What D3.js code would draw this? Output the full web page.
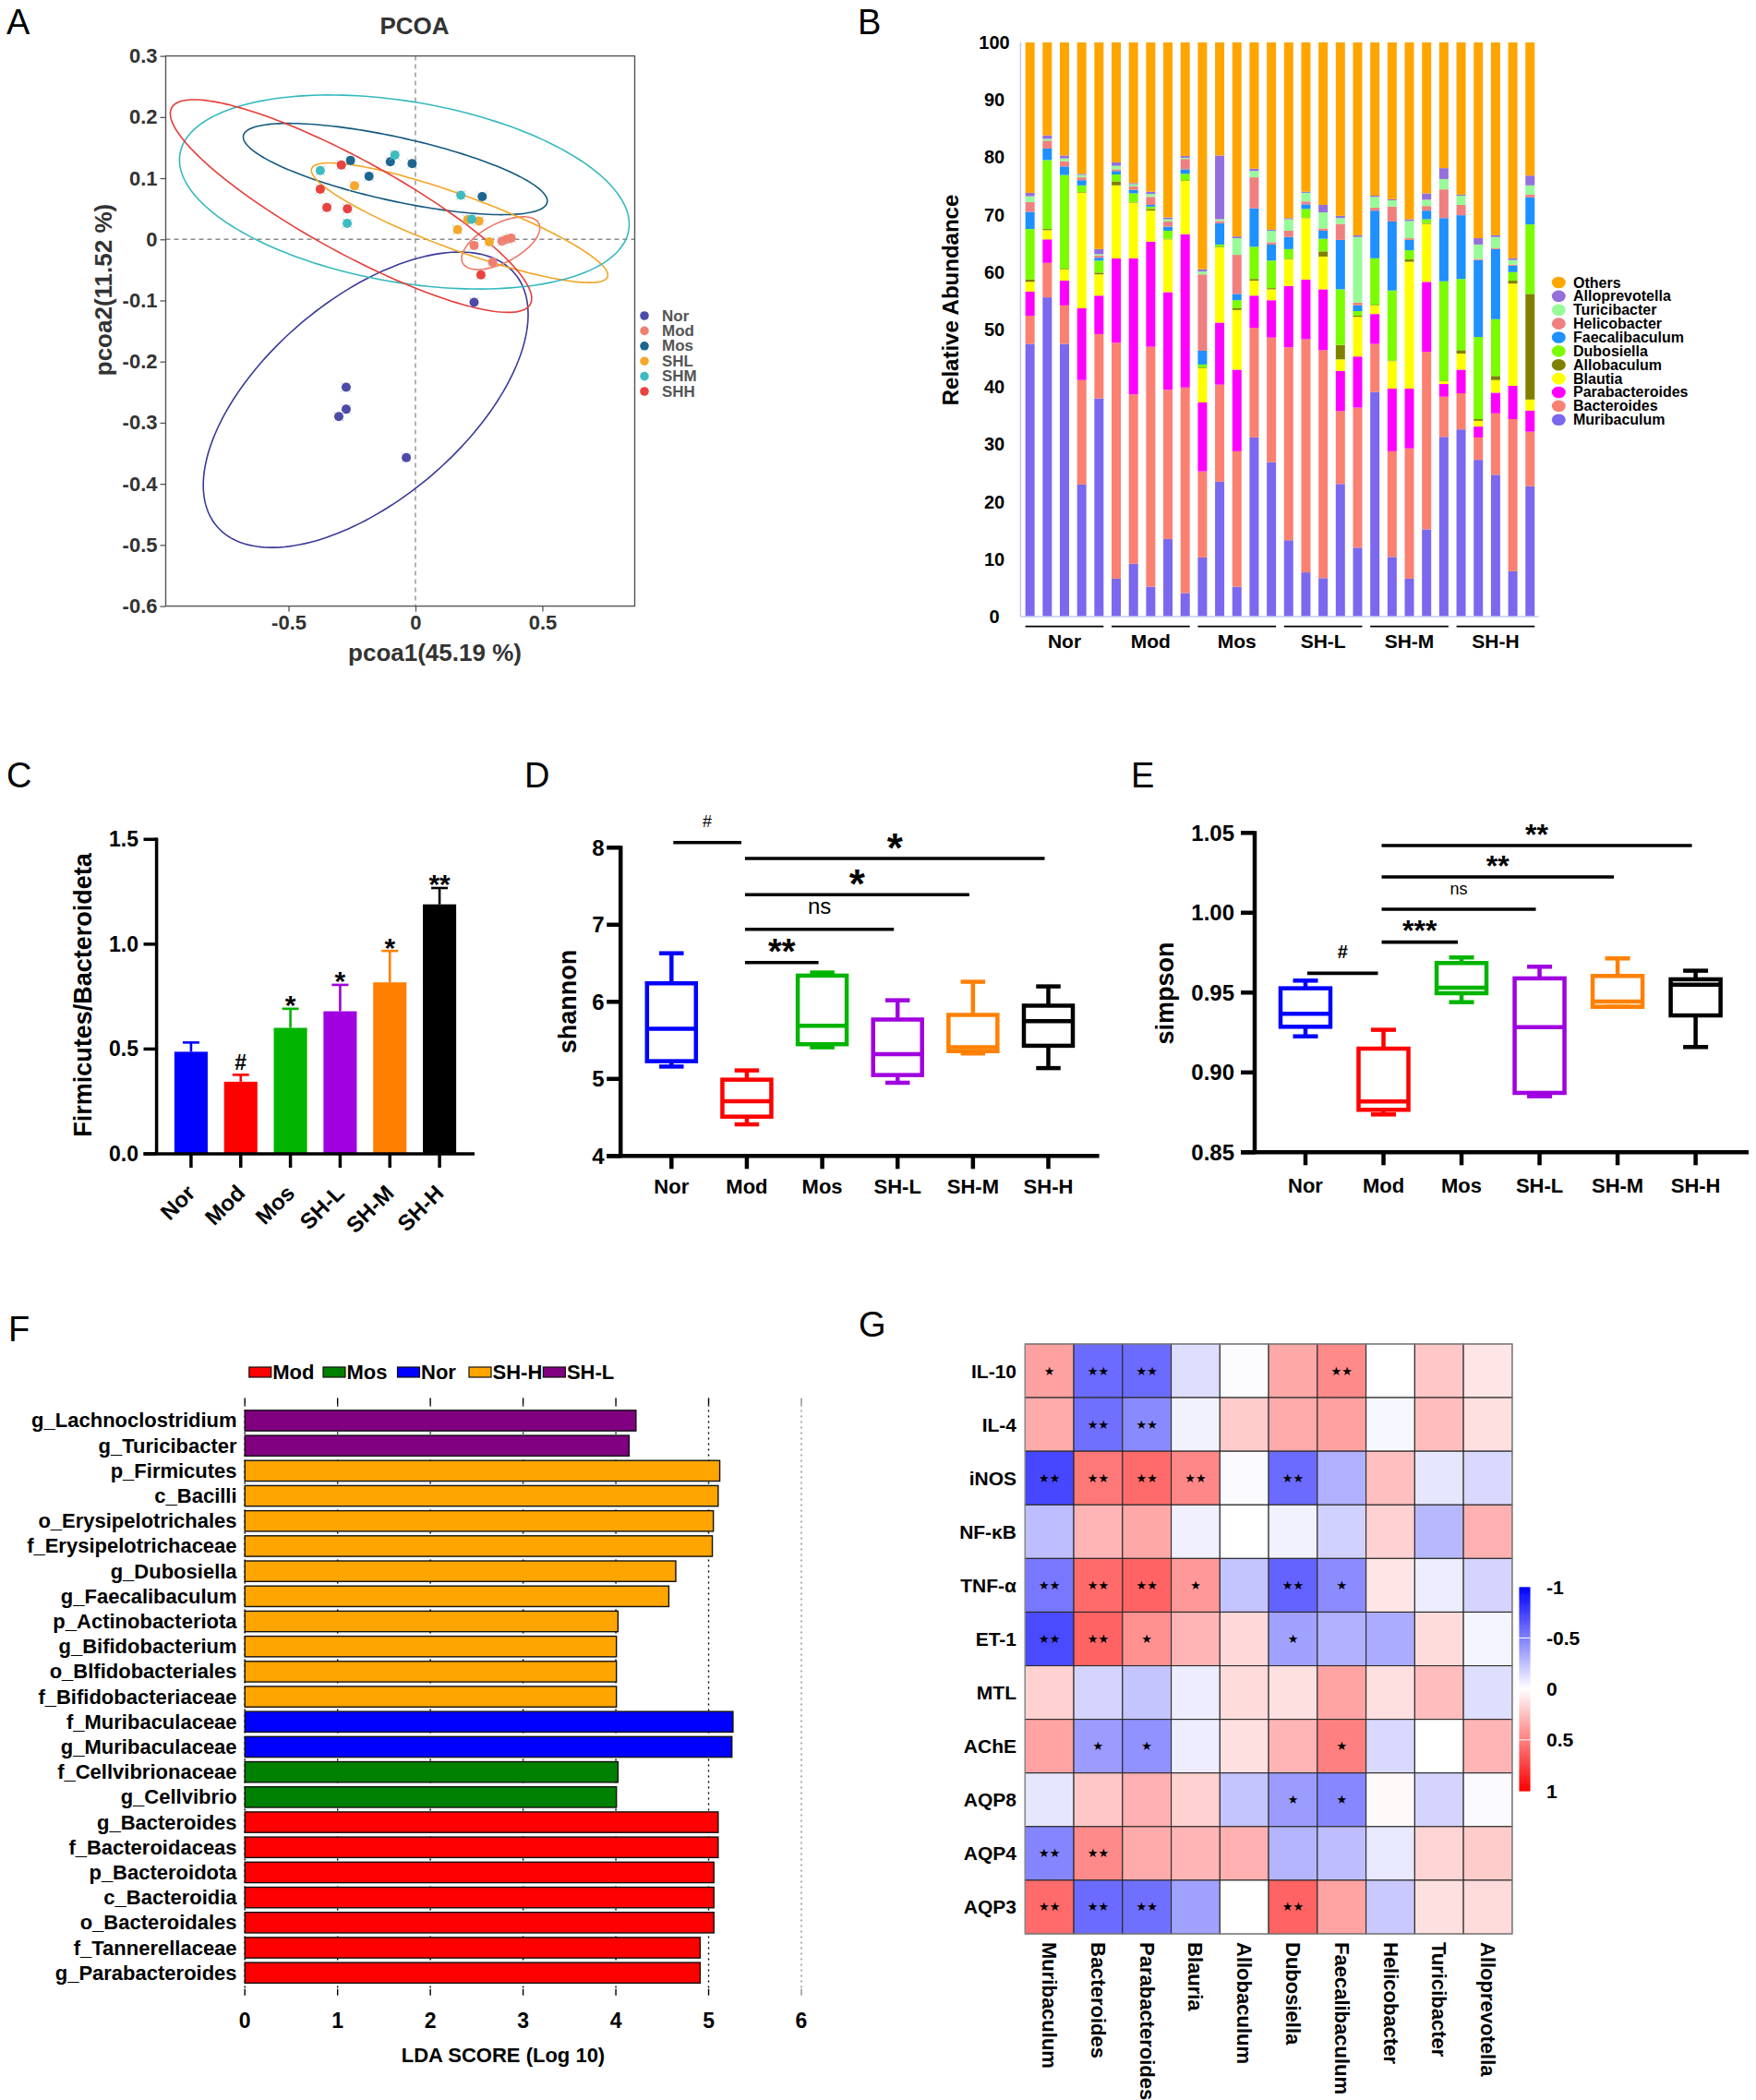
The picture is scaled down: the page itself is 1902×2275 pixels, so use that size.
<!DOCTYPE html>
<html>
<head>
<meta charset="utf-8">
<script src="https://cdn.jsdelivr.net/npm/d3@7/dist/d3.min.js"></script>
<style>
html,body{margin:0;padding:0;background:#fff;}
svg{display:block;}
</style>
</head>
<body>
<svg id="fig" width="1902" height="2275" xmlns="http://www.w3.org/2000/svg"></svg>
<script>
// ======================= DATA =======================
// ---- Panel A : PCoA ----
const pcoaGroups = ["Nor","Mod","Mos","SHL","SHM","SHH"];
const pcoaColors = ["#4b4ba8","#ef8070","#1d6690","#f4a82c","#3cbcc1","#e8433e"];
const pcoaLineColors = ["#3a3a9a","#ec7767","#15597f","#f2a523","#35b9be","#e63d38"];
const pcoaNor = [[-0.273,-0.242],[-0.273,-0.278],[-0.302,-0.290],[-0.036,-0.357],[0.231,-0.103]];
const pcoaMod = [[0.231,-0.010],[0.304,-0.0375],[0.341,-0.003],[0.360,0.0],[0.377,0.002]];
const pcoaMos = [[-0.256,0.129],[-0.099,0.127],[-0.013,0.124],[-0.183,0.103],[0.263,0.070]];
const pcoaSHL = [[-0.240,0.0875],[0.166,0.016],[0.206,0.032],[0.250,0.030],[0.291,-0.004]];
const pcoaSHM = [[-0.375,0.1125],[-0.081,0.138],[-0.269,0.026],[0.179,0.072],[0.222,0.033]];
const pcoaSHH = [[-0.375,0.082],[-0.292,0.1215],[-0.349,0.052],[-0.268,0.050],[0.258,-0.058]];
// ellipses: centre, half-width, half-height, x-offset of the highest point (data units)
const ellCx  = [-0.196, 0.336, -0.0795, 0.174, -0.0438, -0.254];
const ellCy  = [-0.2625, -0.00625, 0.115, 0.0271, 0.0774, 0.0545];
const ellHw  = [0.640, 0.154, 0.599, 0.584, 0.886, 0.712];
const ellHh  = [0.2417, 0.0431, 0.0747, 0.0979, 0.1587, 0.174];
const ellTop = [0.370, 0.0893, -0.420, -0.511, -0.294, -0.619];
const pcoaXTicks = [-0.5, 0, 0.5];
const pcoaXTickLabels = ["-0.5","0","0.5"];
const pcoaYTicks = [0.3,0.2,0.1,0,-0.1,-0.2,-0.3,-0.4,-0.5,-0.6];
const pcoaYTickLabels = ["0.3","0.2","0.1","0","-0.1","-0.2","-0.3","-0.4","-0.5","-0.6"];

// ---- Panel B : relative abundance (30 samples) ----
const sampleGroups = ["Nor","Mod","Mos","SH-L","SH-M","SH-H"];
const muribaculum    = [47.5,55.6,47.5,23.0,38.0, 6.6,9.2,5.2,13.5,4.1, 10.3,23.5,5.2,31.2,26.9, 13.3,7.7,6.7,23.1,12.0, 39.1,10.4,6.6,15.2,31.3, 32.6,27.3,24.7,7.9,22.7];
const bacteroides    = [4.9,6.0,6.7,18.2,11.2, 41.1,29.5,41.8,26.0,35.8, 15.0,16.9,23.6,19.1,21.7, 33.6,40.6,39.7,12.7,24.4, 8.4,18.4,22.7,30.9,7.0, 6.3,3.9,10.7,26.5,9.5];
const parabacteroides= [4.2,4.1,4.3,12.5,6.7, 14.7,23.7,18.3,17.0,26.7, 12.0,10.8,14.2,5.6,6.5, 10.7,10.4,10.6,7.0,8.9, 5.2,10.9,10.4,12.2,2.2, 4.1,1.9,3.6,5.8,3.7];
const blautia        = [1.7,1.6,2.0,20.1,3.7, 12.7,9.7,5.4,9.2,9.3, 6.0,13.1,10.4,2.6,1.9, 4.6,10.7,5.7,2.0,6.9, 1.5,4.8,22.1,10.1,0.5, 2.8,1.0,2.2,17.8,1.9];
const allobaculum    = [0.4,0.2,0.1,0.1,0.3, 0.7,0.1,0.3,0.1,0.1, 0.1,0.1,0.3,0.3,0.2, 0.1,0.1,0.9,2.5,0.2, 0.1,0.1,0.4,0.1,0.1, 0.6,0.3,0.7,0.5,18.4];
const dubosiella     = [8.8,12.0,16.3,1.2,2.1, 1.2,1.5,0.4,1.4,1.1, 0.5,0.4,1.4,5.6,4.8, 1.7,1.5,2.2,9.7,0.8, 8.1,12.2,1.6,0.7,17.3, 12.4,14.3,9.9,1.5,12.1];
const faecalibaculum = [3.0,2.0,1.5,0.9,0.5, 0.6,0.6,0.3,0.7,0.8, 2.4,3.7,1.1,6.7,2.8, 2.1,0.8,1.4,8.6,1.0, 8.3,12.0,1.8,1.5,11.0, 11.1,13.4,12.2,1.1,4.7];
const helicobacter   = [1.7,1.4,0.9,0.5,0.4, 0.3,0.6,1.4,0.9,1.8, 13.3,0.4,6.8,5.4,0.4, 1.1,0.5,0.4,2.8,0.5, 0.5,2.6,0.3,0.8,5.0, 1.8,0.2,0.2,0.2,0.5];
const turicibacter   = [1.0,0.3,0.5,0.4,0.2, 0.6,0.4,0.5,0.4,0.2, 0.5,0.3,2.9,1.1,2.0, 2.0,1.5,2.8,1.0,11.4, 1.9,1.1,3.0,1.1,1.8, 1.6,2.5,1.9,0.8,1.6];
const alloprevotella = [0.6,0.6,0.5,0.2,0.9, 0.6,0.2,0.4,0.3,0.3, 0.4,11.1,0.3,0.4,0.2, 0.2,0.2,1.3,0.4,0.3, 0.2,0.2,0.3,1.1,1.9, 0.2,1.1,0.3,0.3,1.7];
const others         = [26.2,16.2,19.7,22.9,36.0, 20.9,24.5,26.0,30.5,19.8, 39.5,19.7,33.8,22.0,32.6, 30.6,26.0,28.3,30.2,33.6, 26.7,27.3,30.8,26.3,21.9, 26.5,34.1,33.6,37.6,23.2];
const genera = ["Muribaculum","Bacteroides","Parabacteroides","Blautia","Allobaculum","Dubosiella","Faecalibaculum","Helicobacter","Turicibacter","Alloprevotella","Others"];
const generaColors = ["#7b68ee","#fa8072","#ff00ff","#ffff00","#808000","#7cfc00","#1e90ff","#f08080","#98fb98","#9370db","#ffa500"];
const abundTicks = [0,10,20,30,40,50,60,70,80,90,100];

// ---- Panel C : F/B ratio ----
const groups = ["Nor","Mod","Mos","SH-L","SH-M","SH-H"];
const groupColors = ["#0000ff","#ff0000","#00b400","#a000e0","#ff8000","#000000"];
const fbMean = [0.487,0.344,0.601,0.680,0.818,1.190];
const fbErr  = [0.044,0.033,0.091,0.126,0.150,0.078];
const fbSig  = ["","#","*","*","*","**"];
const fbTicks = [0,0.5,1.0,1.5];
const fbTickLabels = ["0.0","0.5","1.0","1.5"];

// ---- Panel D : shannon ----
const shMax = [6.63,5.11,6.38,6.02,6.26,6.20];
const shQ3  = [6.24,4.99,6.34,5.77,5.83,5.95];
const shMed = [5.65,4.71,5.69,5.32,5.41,5.75];
const shQ1  = [5.23,4.51,5.45,5.05,5.36,5.43];
const shMin = [5.16,4.41,5.41,4.95,5.33,5.14];
const shTicks = [4,5,6,7,8];
const shSigFrom = ["Nor","Mod","Mod","Mod","Mod"];
const shSigTo   = ["Mod","SH-H","SH-M","SH-L","Mos"];
const shSigY    = [8.067,7.86,7.39,6.94,6.51];
const shSigLab  = ["#","*","*","ns","**"];

// ---- Panel E : simpson ----
const siMax = [0.9575,0.9267,0.9720,0.9662,0.9714,0.9637];
const siQ3  = [0.9527,0.9149,0.9685,0.9589,0.9604,0.9583];
const siMed = [0.9367,0.8818,0.9531,0.9284,0.9444,0.9550];
const siQ1  = [0.9286,0.8766,0.9496,0.8872,0.9411,0.9357];
const siMin = [0.9226,0.8737,0.9440,0.8851,0.9411,0.9159];
const siTicks = [0.85,0.90,0.95,1.00,1.05];
const siTickLabels = ["0.85","0.90","0.95","1.00","1.05"];
const siSigFrom = ["Nor","Mod","Mod","Mod","Mod"];
const siSigTo   = ["Mod","Mos","SH-L","SH-M","SH-H"];
const siSigY    = [0.9621,0.9816,1.0022,1.0224,1.0421];
const siSigLab  = ["#","***","ns","**","**"];

// ---- Panel F : LEfSe ----
const ldaTaxa = ["g_Lachnoclostridium","g_Turicibacter","p_Firmicutes","c_Bacilli","o_Erysipelotrichales","f_Erysipelotrichaceae","g_Dubosiella","g_Faecalibaculum","p_Actinobacteriota","g_Bifidobacterium","o_Blfidobacteriales","f_Bifidobacteriaceae","f_Muribaculaceae","g_Muribaculaceae","f_Cellvibrionaceae","g_Cellvibrio","g_Bacteroides","f_Bacteroidaceas","p_Bacteroidota","c_Bacteroidia","o_Bacteroidales","f_Tannerellaceae","g_Parabacteroides"];
const ldaScore = [4.217,4.143,5.120,5.103,5.051,5.040,4.646,4.571,4.023,4.006,4.006,4.006,5.263,5.251,4.023,4.006,5.103,5.103,5.057,5.057,5.057,4.909,4.909];
const ldaGroup = ["SH-L","SH-L","SH-H","SH-H","SH-H","SH-H","SH-H","SH-H","SH-H","SH-H","SH-H","SH-H","Nor","Nor","Mos","Mos","Mod","Mod","Mod","Mod","Mod","Mod","Mod"];
const ldaLegend = ["Mod","Mos","Nor","SH-H","SH-L"];
const ldaColors = ["#ff0000","#008000","#0000ff","#ffa500","#800080"];
const ldaTicks = [0,1,2,3,4,5,6];

// ---- Panel G : correlation heatmap ----
const corrRows = ["IL-10","IL-4","iNOS","NF-κB","TNF-α","ET-1","MTL","AChE","AQP8","AQP4","AQP3"];
const corrCols = ["Muribaculum","Bacteroides","Parabacteroides","Blauria","Allobaculum","Dubosiella","Faecalibaculum","Helicobacter","Turicibacter","Alloprevotella"];
const corrValues = [
  [0.37,-0.58,-0.58,-0.13,-0.01,0.34,0.46,0.00,0.22,0.10],
  [0.33,-0.56,-0.46,-0.05,0.20,0.33,0.37,-0.03,0.26,0.12],
  [-0.72,0.53,0.58,0.47,-0.02,-0.58,-0.31,0.25,-0.10,-0.15],
  [-0.26,0.29,0.34,-0.06,0.00,-0.05,-0.18,0.18,-0.28,0.31],
  [-0.53,0.58,0.61,0.40,-0.23,-0.61,-0.45,0.10,-0.07,-0.17],
  [-0.71,0.61,0.43,0.29,0.15,-0.37,-0.31,-0.33,0.14,-0.04],
  [0.18,-0.17,-0.23,-0.07,0.14,0.12,0.36,0.12,0.26,-0.13],
  [0.36,-0.39,-0.43,-0.07,0.12,0.29,0.50,-0.15,0.00,0.29],
  [-0.10,0.22,0.31,0.18,-0.23,-0.39,-0.47,0.02,-0.17,-0.02],
  [-0.48,0.46,0.33,0.29,0.31,-0.29,-0.26,-0.09,0.17,0.20],
  [0.58,-0.58,-0.56,-0.37,0.00,0.61,0.36,-0.21,0.12,0.14]
];
const corrSig = [
  ["*","**","**","","","","**","","",""],
  ["","**","**","","","","","","",""],
  ["**","**","**","**","","**","","","",""],
  ["","","","","","","","","",""],
  ["**","**","**","*","","**","*","","",""],
  ["**","**","*","","","*","","","",""],
  ["","","","","","","","","",""],
  ["","*","*","","","","*","","",""],
  ["","","","","","*","*","","",""],
  ["**","**","","","","","","","",""],
  ["**","**","**","","","**","","","",""]
];
const cbTicks = [-1,-0.5,0,0.5,1];
const cbTickLabels = ["-1","-0.5","0","0.5","1"];

// ======================= DRAWING =======================
const FONT = '"Liberation Sans", Arial, Helvetica, sans-serif';
const svg = d3.select("#fig");
svg.append("rect").attr("width",1902).attr("height",2275).attr("fill","#fff");

function T(g, x, y, s, o) {
  o = o || {};
  const t = g.append("text").attr("x", x).attr("y", y).text(s)
    .attr("font-family", o.family || FONT)
    .attr("font-size", o.size || 20)
    .attr("font-weight", o.weight || "bold")
    .attr("fill", o.fill || "#000")
    .attr("text-anchor", o.anchor || "start");
  if (o.baseline) t.attr("dominant-baseline", o.baseline);
  if (o.transform) t.attr("transform", o.transform);
  return t;
}
function L(g, x1, y1, x2, y2, c, w, dash) {
  const l = g.append("line").attr("x1",x1).attr("y1",y1).attr("x2",x2).attr("y2",y2)
    .attr("stroke", c).attr("stroke-width", w);
  if (dash) l.attr("stroke-dasharray", dash);
  return l;
}

// panel letters
[["A",7,37],["B",929,37],["C",7,853],["D",568,853],["E",1225,853],["F",9,1453],["G",930,1448]]
  .forEach(([s,x,y]) => T(svg, x, y, s, {size:38, weight:"normal"}));

// ---------------- Panel A ----------------
(function(){
  const g = svg.append("g");
  const x = d3.scaleLinear().domain([-0.984, 0.864]).range([179.5, 687.5]);
  const y = d3.scaleLinear().domain([-0.6, 0.3]).range([656.6, 60.6]);
  const [x0,x1] = x.range(), [y0,y1] = y.range();
  L(g, x(0), y1, x(0), y0, "#8a8a8a", 1.3, "5,4");
  L(g, x0, y(0), x1, y(0), "#8a8a8a", 1.3, "5,4");
  const line = d3.line();
  pcoaGroups.forEach((grp, i) => {
    const k = ellTop[i] / ellHw[i];
    const pts = d3.range(0, 361, 2).map(deg => {
      const t = deg * Math.PI / 180;
      const dx = ellHw[i] * Math.cos(t);
      const dy = ellHh[i] * (k * Math.cos(t) + Math.sqrt(1 - k*k) * Math.sin(t));
      return [x(ellCx[i] + dx), y(ellCy[i] + dy)];
    });
    g.append("path").attr("d", line(pts)).attr("fill","none")
      .attr("stroke", pcoaLineColors[i]).attr("stroke-width", 1.6);
  });
  const pts = [pcoaNor, pcoaMod, pcoaMos, pcoaSHL, pcoaSHM, pcoaSHH];
  pts.forEach((arr, i) => {
    arr.forEach(p => {
      const cx = x(p[0]), cy = y(p[1]);
      L(g, cx-5.5, cy-5.5, cx+5.5, cy+5.5, "#b9c0cc", 0.9);
      L(g, cx-5.5, cy+5.5, cx+5.5, cy-5.5, "#b9c0cc", 0.9);
      g.append("circle").attr("cx", cx).attr("cy", cy).attr("r", 5).attr("fill", pcoaColors[i]);
    });
  });
  g.append("rect").attr("x", x0).attr("y", y1).attr("width", x1-x0).attr("height", y0-y1)
    .attr("fill","none").attr("stroke","#555").attr("stroke-width",1.4);
  const ay = g.append("g").attr("transform", `translate(${x0},0)`)
    .call(d3.axisLeft(y).tickValues(pcoaYTicks).tickSize(6).tickPadding(3)
      .tickFormat((d,i) => pcoaYTickLabels[i]));
  const ax = g.append("g").attr("transform", `translate(0,${y0})`)
    .call(d3.axisBottom(x).tickValues(pcoaXTicks).tickSize(6).tickPadding(4)
      .tickFormat((d,i) => pcoaXTickLabels[i]));
  [ay, ax].forEach(a => {
    a.select(".domain").remove();
    a.selectAll("line").attr("stroke","#555").attr("stroke-width",1.3);
    a.selectAll("text").attr("font-family",FONT).attr("font-size",22).attr("font-weight","bold").attr("fill","#333");
  });
  T(g, 449, 37, "PCOA", {size:26, anchor:"middle", fill:"#333"});
  T(g, 471, 716, "pcoa1(45.19 %)", {size:26, anchor:"middle", fill:"#333"});
  T(g, 0, 0, "pcoa2(11.52 %)", {size:26, anchor:"middle", fill:"#333", transform:"translate(121,314) rotate(-90)"});
  // legend
  pcoaGroups.forEach((grp, i) => {
    const yy = 342 + i * 16.4;
    g.append("circle").attr("cx", 698).attr("cy", yy).attr("r", 4.8).attr("fill", pcoaColors[i]);
    T(g, 717, yy, grp, {size:17, fill:"#555", baseline:"central"});
  });
})();

// ---------------- Panel B ----------------
(function(){
  const g = svg.append("g");
  const sampleIds = [];
  const sampleGroupOf = [];
  sampleGroups.forEach(gr => { for (let k = 1; k <= 5; k++) { sampleIds.push(gr + "_" + k); sampleGroupOf.push(gr); } });
  const series = [muribaculum, bacteroides, parabacteroides, blautia, allobaculum, dubosiella, faecalibaculum, helicobacter, turicibacter, alloprevotella, others];
  const rows = sampleIds.map((s, i) => {
    const r = { sample: s };
    genera.forEach((gn, j) => r[gn] = series[j][i]);
    return r;
  });
  const x = d3.scaleBand().domain(sampleIds).range([1106.3, 1666.6]).paddingInner(0.465).paddingOuter(0.2325);
  const y = d3.scaleLinear().domain([0, 100]).range([668, 45.9]);
  const color = d3.scaleOrdinal().domain(genera).range(generaColors);
  const stacked = d3.stack().keys(genera)(rows);
  stacked.forEach(layer => {
    g.append("g").attr("fill", color(layer.key)).selectAll("rect").data(layer).join("rect")
      .attr("x", d => x(d.data.sample)).attr("width", x.bandwidth())
      .attr("y", d => y(d[1])).attr("height", d => Math.max(0, y(d[0]) - y(d[1])));
  });
  L(g, 1105.4, y(0), 1105.4, y(100), "#c6cbee", 1.6);
  L(g, 1105.4, y(0), 1666.6, y(0), "#c6cbee", 1.6);
  abundTicks.forEach(v => T(g, 1077, y(v), String(v), {size:20, anchor:"middle", baseline:"central"}));
  T(g, 0, 0, "Relative Abundance", {size:24, anchor:"middle", transform:"translate(1038,325) rotate(-90)"});
  sampleGroups.forEach(gr => {
    const ids = sampleIds.filter((s, i) => sampleGroupOf[i] === gr);
    const a = x(ids[0]), b = x(ids[ids.length-1]) + x.bandwidth();
    L(g, a, 678.6, b, 678.6, "#000", 1.6);
    T(g, (a+b)/2, 702, gr, {size:21, anchor:"middle"});
  });
  const legendOrder = genera.slice().reverse();
  legendOrder.forEach((gn, i) => {
    const yy = 306 + i * 14.87;
    g.append("ellipse").attr("cx", 1688.3).attr("cy", yy).attr("rx", 7.5).attr("ry", 6.3).attr("fill", color(gn));
    T(g, 1704, yy, gn, {size:16, baseline:"central"});
  });
})();

// helper for significance glyph placement (glyph centre -> baseline)
function sigText(g, cx, cyCentre, lab, size, weight) {
  let off;
  if (lab.indexOf("*") >= 0) off = 0.58 * size;
  else if (lab === "#") off = 0.36 * size;
  else off = 0.26 * size;
  return T(g, cx, cyCentre + off, lab, {size: size, anchor: "middle", weight: weight || "bold"});
}

// ---------------- Panel C ----------------
(function(){
  const g = svg.append("g");
  const x = d3.scaleBand().domain(groups).range([180, 503]).paddingInner(0.33).paddingOuter(0.165);
  const y = d3.scaleLinear().domain([0, 1.5]).range([1250, 909.3]);
  groups.forEach((gr, i) => {
    const bx = x(gr), bw = x.bandwidth(), cx = bx + bw/2;
    g.append("rect").attr("x", bx).attr("y", y(fbMean[i])).attr("width", bw).attr("height", y(0) - y(fbMean[i])).attr("fill", groupColors[i]);
    const top = y(fbMean[i] + fbErr[i]);
    L(g, cx, y(fbMean[i]), cx, top, groupColors[i], 2.6);
    L(g, cx - 9, top, cx + 9, top, groupColors[i], 2.6);
    if (fbSig[i] === "#") sigText(g, cx, top - 14, "#", 23);
    else if (fbSig[i]) sigText(g, cx, top - 11, fbSig[i], 30);
  });
  L(g, 169.6, y(0), 169.6, y(1.5) - 1.7, "#000", 3.5);
  L(g, 155.5, y(0), 514, y(0), "#000", 3.5);
  fbTicks.forEach((v, i) => {
    L(g, 155.5, y(v), 169.6, y(v), "#000", 3.5);
    T(g, 150, y(v), fbTickLabels[i], {size:23, anchor:"end", baseline:"central"});
  });
  groups.forEach(gr => {
    const cx = x(gr) + x.bandwidth()/2;
    L(g, cx, y(0), cx, y(0) + 15, "#000", 3.5);
    T(g, 0, 0, gr, {size:24, anchor:"end", transform:`translate(${cx+6},1294) rotate(-45)`});
  });
  T(g, 0, 0, "Firmicutes/Bacteroideta", {size:27, anchor:"middle", transform:"translate(99,1078) rotate(-90)"});
})();

// ---------------- Box plots (D, E) ----------------
function boxPanel(o) {
  const g = svg.append("g");
  const x = d3.scalePoint().domain(groups).range(o.xr);
  const y = d3.scaleLinear().domain(o.dom).range(o.yr);
  const sw = 4.5, bw = o.bw;
  groups.forEach((gr, i) => {
    const cx = x(gr), c = groupColors[i];
    L(g, cx, y(o.max[i]), cx, y(o.q3[i]), c, sw);
    L(g, cx, y(o.q1[i]), cx, y(o.min[i]), c, sw);
    L(g, cx - bw/4, y(o.max[i]), cx + bw/4, y(o.max[i]), c, sw);
    L(g, cx - bw/4, y(o.min[i]), cx + bw/4, y(o.min[i]), c, sw);
    g.append("rect").attr("x", cx - bw/2).attr("y", y(o.q3[i])).attr("width", bw)
      .attr("height", Math.max(0.5, y(o.q1[i]) - y(o.q3[i]))).attr("fill","none").attr("stroke", c).attr("stroke-width", sw);
    L(g, cx - bw/2, y(o.med[i]), cx + bw/2, y(o.med[i]), c, sw);
  });
  const ax0 = o.axisX, yb = y(o.dom[0]), yt = y(o.dom[1]);
  L(g, ax0, yb + 2, ax0, yt - 2, "#000", 4.5);
  L(g, ax0 - 15, yb, o.xEnd, yb, "#000", 4.5);
  o.ticks.forEach((v, i) => {
    L(g, ax0 - 15, y(v), ax0, y(v), "#000", 4.5);
    T(g, o.tickLabelX, y(v), o.tickLabels[i], {size:o.tickSize, anchor: o.tickAnchor, baseline:"central"});
  });
  groups.forEach(gr => {
    L(g, x(gr), yb, x(gr), yb + 14, "#000", 4.5);
    T(g, x(gr), o.labelY, gr, {size:22, anchor:"middle"});
  });
  T(g, 0, 0, o.title, {size:27, anchor:"middle", transform:`translate(${o.titleX},${o.titleY}) rotate(-90)`});
  o.sigFrom.forEach((f, i) => {
    const a = x(f), b = x(o.sigTo[i]), yy = y(o.sigY[i]);
    const xa = f === "Nor" ? a + 2 : a - 2, xb = f === "Nor" ? b - 6 : b - 4;
    L(g, xa, yy, xb, yy, "#000", o.sigW);
    const lab = o.sigLab[i];
    const mid = (xa + xb) / 2;
    if (lab === "#") sigText(g, mid, yy - o.hashOff, "#", o.hashSize, o.hashWeight);
    else if (lab === "ns") sigText(g, mid, yy - o.nsOff, "ns", o.nsSize, "normal");
    else sigText(g, mid, yy - (lab.length === 1 ? o.starOff1 : o.starOff), lab, lab.length === 1 ? o.starSize1 : o.starSize);
  });
}
boxPanel({xr:[727.3,1135.5], dom:[4,8], yr:[1252.3,918.3], bw:53,
  max:shMax, q3:shQ3, med:shMed, q1:shQ1, min:shMin,
  axisX:672.2, xEnd:1190.6, ticks:shTicks, tickLabels:shTicks.map(String), tickLabelX:648, tickAnchor:"middle", tickSize:24,
  labelY:1293, title:"shannon", titleX:624, titleY:1085,
  sigFrom:shSigFrom, sigTo:shSigTo, sigY:shSigY, sigLab:shSigLab, sigW:3.6,
  hashOff:23, hashSize:18, hashWeight:"normal", nsOff:23, nsSize:24, starOff1:22, starSize1:44, starOff:21, starSize:38});
boxPanel({xr:[1414,1836.6], dom:[0.85,1.05], yr:[1248.3,902.3], bw:54,
  max:siMax, q3:siQ3, med:siMed, q1:siQ1, min:siMin,
  axisX:1359, xEnd:1894, ticks:siTicks, tickLabels:siTickLabels, tickLabelX:1337, tickAnchor:"end", tickSize:24,
  labelY:1292, title:"simpson", titleX:1271, titleY:1076,
  sigFrom:siSigFrom, sigTo:siSigTo, sigY:siSigY, sigLab:siSigLab, sigW:3.6,
  hashOff:24, hashSize:20, hashWeight:"bold", nsOff:21, nsSize:18, starOff1:20, starSize1:32, starOff:20, starSize:32});

// ---------------- Panel F ----------------
(function(){
  const g = svg.append("g");
  const x = d3.scaleLinear().domain([0, 6]).range([265.2, 868]);
  const y = d3.scaleBand().domain(ldaTaxa).range([1525.4, 2150.8]).paddingInner(0.18).paddingOuter(0.09);
  const col = d3.scaleOrdinal().domain(ldaLegend).range(ldaColors);
  const yTop = 1514.4, yBot = 2161.7;
  ldaTicks.forEach(v => {
    const c = v === 6 ? "#8c8c8c" : "#000";
    L(g, x(v), yTop, x(v), yTop + 7, c, 1.4);
    L(g, x(v), yBot - 7, x(v), yBot, c, 1.4);
    L(g, x(v), yTop + 7, x(v), yBot - 7, c, 1.4, "2,4");
    T(g, x(v), 2197, String(v), {size:23, anchor:"middle"});
  });
  ldaTaxa.forEach((t, i) => {
    g.append("rect").attr("x", x(0)).attr("y", y(t)).attr("width", x(ldaScore[i]) - x(0)).attr("height", y.bandwidth())
      .attr("fill", col(ldaGroup[i])).attr("stroke", "#111").attr("stroke-width", 1.4);
    T(g, 256.6, y(t) + y.bandwidth()/2, t, {size:22, anchor:"end", baseline:"central"});
  });
  T(g, 545, 2234, "LDA SCORE (Log 10)", {size:22, anchor:"middle"});
  const legX = [269.8, 350, 430.5, 508, 588.4];
  ldaLegend.forEach((gr, i) => {
    g.append("rect").attr("x", legX[i]).attr("y", 1481).attr("width", 24).attr("height", 11)
      .attr("fill", col(gr)).attr("stroke", "#111").attr("stroke-width", 1.2);
    T(g, legX[i] + 25.5, 1486.5, gr, {size:22, baseline:"central"});
  });
})();

// ---------------- Panel G ----------------
(function(){
  const g = svg.append("g");
  const x = d3.scaleBand().domain(corrCols).range([1110.3, 1637.9]);
  const y = d3.scaleBand().domain(corrRows).range([1456, 2095]);
  const color = d3.scaleLinear().domain([-1, 0, 1]).range(["#0000ff", "#ffffff", "#ff0000"]);
  corrRows.forEach((r, i) => {
    corrCols.forEach((c, j) => {
      g.append("rect").attr("x", x(c)).attr("y", y(r)).attr("width", x.bandwidth()).attr("height", y.bandwidth())
        .attr("fill", color(corrValues[i][j])).attr("stroke", "#2a2a2a").attr("stroke-width", 1.1);
      const s = corrSig[i][j];
      if (s) T(g, x(c) + x.bandwidth()/2, y(r) + y.bandwidth()/2, s.replace(/\*/g, "★"),
        {size:13, anchor:"middle", baseline:"central", family:'"DejaVu Sans", sans-serif', weight:"normal"});
    });
    T(g, 1101, y(r) + y.bandwidth()/2, r, {size:21, anchor:"end", baseline:"central"});
  });
  g.append("rect").attr("x", 1110.3).attr("y", 1456).attr("width", 1637.9 - 1110.3).attr("height", 2095 - 1456)
    .attr("fill", "none").attr("stroke", "#999").attr("stroke-width", 1);
  corrCols.forEach(c => {
    T(g, 0, 0, c, {size:22, baseline:"central", transform:`translate(${x(c) + x.bandwidth()/2},2104) rotate(90)`});
  });
  const cy = d3.scaleLinear().domain([-1, 1]).range([1719.3, 1940]);
  const steps = d3.range(-1, 1, 0.02);
  steps.forEach(v => {
    g.append("rect").attr("x", 1645.5).attr("y", cy(v)).attr("width", 12).attr("height", cy(v + 0.02) - cy(v) + 0.6)
      .attr("fill", color(v + 0.01));
  });
  cbTicks.forEach((v, i) => {
    if (v > -1 && v < 1) L(g, 1645.5, cy(v), 1657.5, cy(v), "#fff", 1);
    T(g, 1675, cy(v), cbTickLabels[i], {size:21, baseline:"central"});
  });
})();
</script>
</body>
</html>
